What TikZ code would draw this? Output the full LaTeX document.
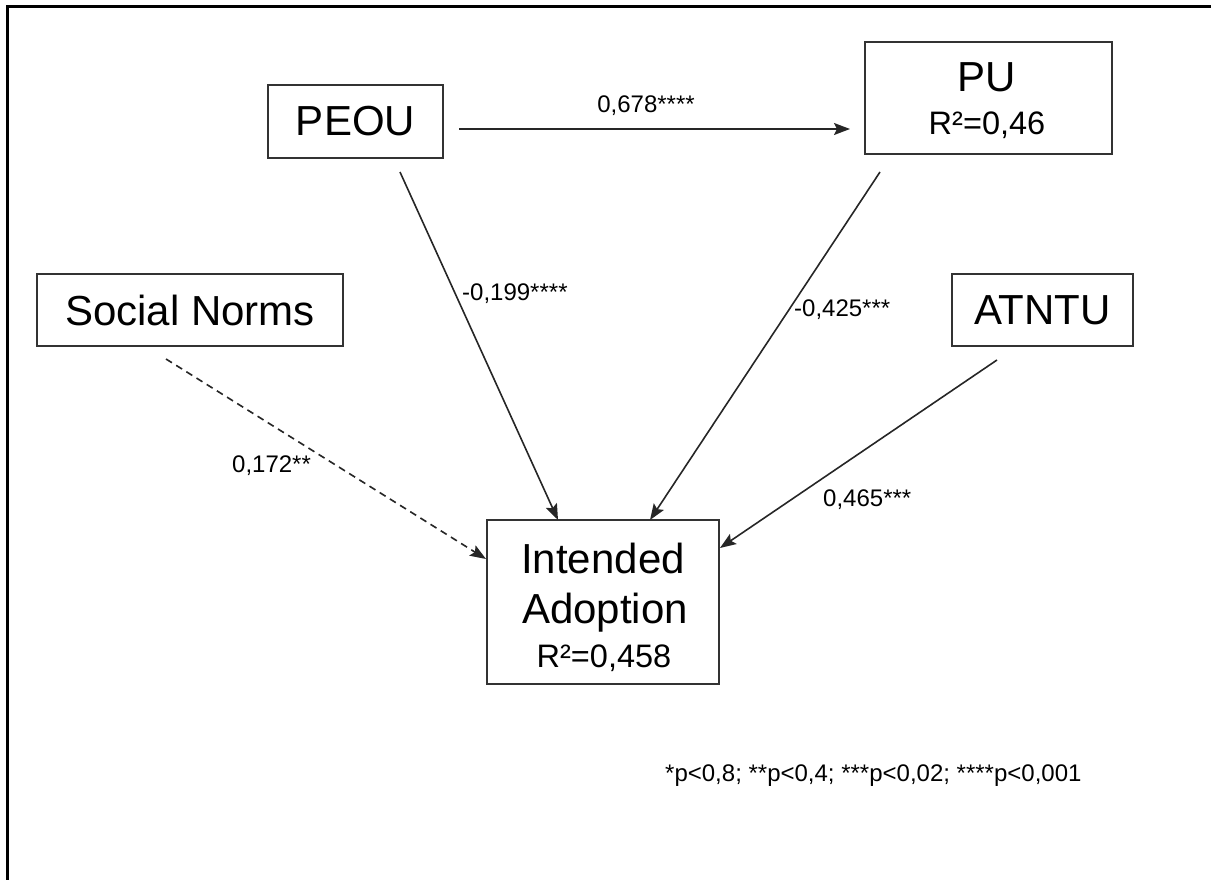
\documentclass[tikz,border=0pt]{standalone}
\usepackage{fontspec}
\setmainfont{Liberation Sans}
\usetikzlibrary{arrows.meta}
\begin{document}
\begin{tikzpicture}[x=1pt,y=-1pt,
  box/.style={draw=black!80, line width=2pt, inner sep=0pt, fill=white},
  big/.style={font=\fontsize{42}{50}\selectfont},
  rsq/.style={font=\fontsize{32.5}{40}\selectfont},
  coef/.style={font=\fontsize{24}{28}\selectfont, inner sep=0pt},
  link/.style={line width=1.6pt, draw=black!85,
    -{Stealth[length=16pt,width=12pt,inset=3pt]}},
  frameline/.style={line width=3pt, draw=black},
]
\useasboundingbox (0,0) rectangle (1211,880);

% outer frame (top and left edges)
\draw[frameline] (7.5,880) -- (7.5,6.5) -- (1211,6.5);

% constructs
\node[box, big, minimum width=175pt, minimum height=73pt] (peou) at (355.5,121.5) {PEOU};
\node[box, minimum width=247pt, minimum height=112pt] (pu) at (988.5,98) {};
\node[big, anchor=base] (putitle) at (987,92) {PU};
\node[rsq, anchor=base] (pur) at (987,135) {R²=0,46};
\node[box, big, minimum width=306pt, minimum height=72pt] (sn) at (190,310) {Social Norms};
\node[box, big, minimum width=181pt, minimum height=72pt] (atntu) at (1042.5,310) {ATNTU};
\node[box, minimum width=232pt, minimum height=164pt] (ia) at (603,602) {};
\node[big, anchor=base] (iatitle1) at (603,573) {Intended};
\node[big, anchor=base] (iatitle2) at (605,623) {Adoption};
\node[rsq, anchor=base] (iar) at (604,667) {R²=0,458};

% connector end points
\coordinate (peouR) at (459,129);
\coordinate (puL) at (850,129);
\coordinate (peouB) at (400,172);
\coordinate (iaT1) at (558,520);
\coordinate (puB) at (880,172);
\coordinate (iaT2) at (650,520);
\coordinate (atntuB) at (997,360);
\coordinate (iaR) at (720,548);
\coordinate (snB) at (166,359);
\coordinate (iaL) at (486,559);

% paths
\draw[link] (peouR) -- (puL);
\draw[link] (peouB) -- (iaT1);
\draw[link] (puB) -- (iaT2);
\draw[link] (atntuB) -- (iaR);
\draw[link, dash pattern=on 7pt off 5pt] (snB) -- (iaL);

% path coefficients
\node[coef] (c1) at (646,106) {0,678****};
\node[coef, anchor=west] (c2) at (462,294) {-0,199****};
\node[coef, anchor=west] (c3) at (794,310) {-0,425***};
\node[coef, anchor=west] (c4) at (823,500) {0,465***};
\node[coef, anchor=west] (c5) at (232,466) {0,172**};

% significance levels
\node[coef, anchor=west] (note) at (665,776) {*p<0,8; **p<0,4; ***p<0,02; ****p<0,001};
\end{tikzpicture}
\end{document}
